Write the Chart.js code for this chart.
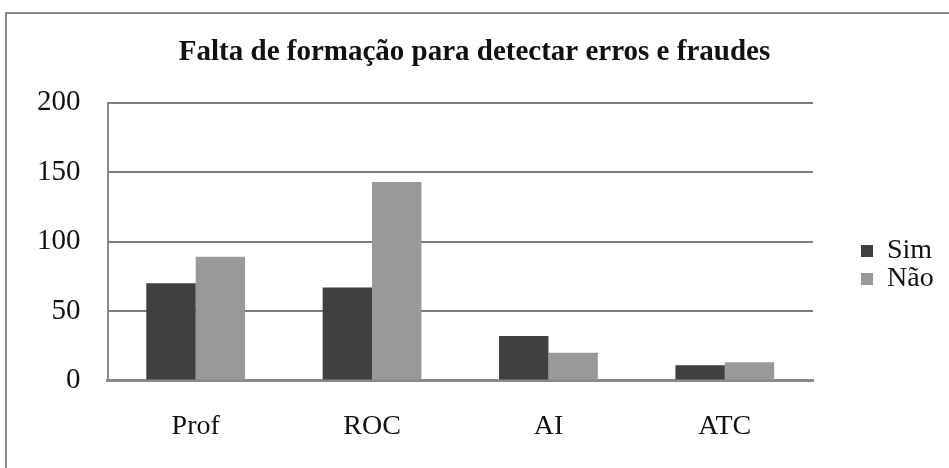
<!DOCTYPE html>
<html>
<head>
<meta charset="utf-8">
<script src="https://cdn.jsdelivr.net/npm/chart.js@4.4.1/dist/chart.umd.min.js"></script>
<style>
  html, body { margin: 0; padding: 0; background: #fff; }
  #wrap { position: relative; width: 949px; height: 468px; overflow: hidden; }
  #frame { position: absolute; left: 5px; top: 12px; width: 960px; height: 480px; border: 2px solid #8c8c8c; box-sizing: border-box; pointer-events: none; }
  canvas { position: absolute; left: 0; top: 0; }
</style>
</head>
<body>
<div id="wrap">
  <canvas id="c" width="949" height="500"></canvas>
  <div id="frame"></div>
</div>
<script>
const titleText = "Falta de formação para detectar erros e fraudes";
const categories = ["Prof", "ROC", "AI", "ATC"];
const seriesNames = ["Sim", "Não"];
const simValues = [70, 67, 32, 11];
const naoValues = [89, 143, 20, 13];
const yTicks = [0, 50, 100, 150, 200];

const serif = "'Liberation Serif', 'Times New Roman', serif";

const legendPlugin = {
  id: 'legendShift',
  beforeInit(chart) {
    const lg = chart.legend;
    const orig = lg.fit;
    lg.fit = function () {
      orig.call(this);
      this.width = 949 - 10 - 813;
    };
  },
  afterLayout(chart) {
    const lg = chart.legend;
    const w = lg.width;
    lg.left = 861;
    lg.right = lg.left + w;
    lg.top = 165;
    lg.bottom = 365;
    lg.height = 200;
  }
};

new Chart(document.getElementById('c'), {
  type: 'bar',
  data: {
    labels: categories,
    datasets: [
      { label: seriesNames[0], data: simValues, backgroundColor: '#404040', borderWidth: 0 },
      { label: seriesNames[1], data: naoValues, backgroundColor: '#999999', borderWidth: 0 }
    ]
  },
  options: {
    responsive: false,
    animation: false,
    layout: { padding: { left: 10, right: 10, top: 13, bottom: 28 } },
    datasets: { bar: { categoryPercentage: 0.56, barPercentage: 1.0 } },
    plugins: {
      title: {
        display: true,
        text: titleText,
        color: '#111',
        font: { family: serif, size: 29, weight: 'bold' },
        padding: { top: 22, bottom: 33 }
      },
      legend: {
        position: 'right',
        labels: {
          color: '#111',
          font: { family: serif, size: 28 },
          boxWidth: 12,
          boxHeight: 12,
          padding: 0
        }
      },
      tooltip: { enabled: false }
    },
    scales: {
      x: {
        grid: { display: false, drawTicks: false },
        border: { display: true, color: '#8a8a8a', width: 3 },
        ticks: { color: '#111', font: { family: serif, size: 28 }, padding: 29 }
      },
      y: {
        min: 0, max: 200,
        afterBuildTicks(axis) { axis.ticks = yTicks.map(v => ({ value: v })); },
        grid: { color: '#7e7e7e', lineWidth: 2, drawTicks: false },
        border: { display: true, color: '#8a8a8a', width: 2 },
        ticks: { color: '#111', font: { family: serif, size: 29 }, padding: 27 }
      }
    }
  },
  plugins: [legendPlugin]
});
</script>
</body>
</html>
